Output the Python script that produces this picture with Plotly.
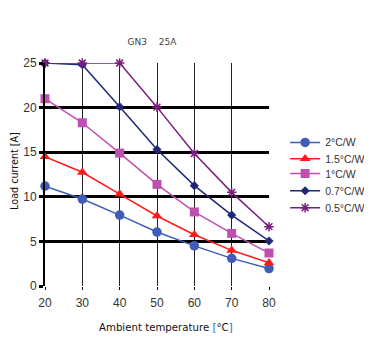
import plotly.graph_objects as go

temps = [20, 30, 40, 50, 60, 70, 80]
names = ["2°C/W", "1.5°C/W", "1°C/W", "0.7°C/W", "0.5°C/W"]
s_2 = [11.2, 9.75, 7.95, 6.05, 4.5, 3.1, 1.95]
s_15 = [14.5, 12.75, 10.3, 7.85, 5.75, 4.0, 2.6]
s_1 = [21.0, 18.3, 14.9, 11.4, 8.3, 5.9, 3.7]
s_07 = [25.0, 24.8, 20.1, 15.3, 11.25, 7.95, 5.05]
s_05 = [25.0, 25.0, 25.0, 20.05, 14.85, 10.5, 6.65]

series = [s_2, s_15, s_1, s_07, s_05]
colors = ["#3E5CB8", "#FF1A1A", "#C050B0", "#1F2878", "#7A1F80"]
symbols = ["circle", "triangle-up", "square", "diamond", "asterisk-open"]
sizes = [9.5, 9.5, 9, 7, 8]
legend_ys = [0.644, 0.571, 0.504, 0.427, 0.351]
legend_ids = ["legend", "legend2", "legend3", "legend4", "legend5"]

fig = go.Figure()
for n, s, c, sym, sz, lid in zip(names, series, colors, symbols, sizes, legend_ids):
    fig.add_trace(go.Scatter(
        x=temps, y=s, name=n, mode="lines+markers",
        line=dict(color=c, width=1.5),
        marker=dict(symbol=sym, size=sz, color=c, line=dict(color=c, width=1.5 if sym == "asterisk-open" else 0)),
        cliponaxis=False, legend=lid,
    ))

W, H = 364, 356
legend_common = dict(x=1.072, xanchor="left", yanchor="middle",
                     font=dict(family="Liberation Sans, Arial", size=10.5, color="#333333"),
                     itemwidth=30, bgcolor="rgba(0,0,0,0)")
legends = {lid: dict(y=ly, **legend_common) for lid, ly in zip(legend_ids, legend_ys)}

fig.update_layout(
    width=W, height=H,
    margin=dict(l=37, r=103, t=55, b=78, autoexpand=False),
    paper_bgcolor="white", plot_bgcolor="white",
    font=dict(family="Liberation Sans, Arial", size=11, color="#333333"),
    title=dict(text="GN3\u3000 25A", x=144/W, xanchor="center", y=1-34/H, yanchor="middle",
               font=dict(family="DejaVu Sans", size=9, color="#444444")),
    showlegend=True,
    xaxis=dict(range=[20, 80], tickvals=temps, showgrid=True, gridcolor="#222222", gridwidth=1.3,
               zeroline=False, showline=False, automargin=False,
               ticks="outside", ticklen=3, tickcolor="#000000", tickwidth=1.3,
               ticklabelstandoff=3,
               tickfont=dict(size=12, color="#333333")),
    yaxis=dict(range=[0, 25], tickvals=[0, 5, 10, 15, 20, 25], showgrid=True,
               gridcolor="#000000", gridwidth=2.5, zeroline=False, automargin=False,
               showline=True, linecolor="#000000", linewidth=2,
               ticks="outside", ticklen=4, tickcolor="#000000", tickwidth=2.5,
               tickfont=dict(size=12, color="#333333")),
    annotations=[
        dict(text="Ambient temperature <span style='color:#2F5FC8'>[</span>°C<span style='color:#2F5FC8'>]</span>",
             xref="paper", yref="paper", x=0.542, y=-0.184, xanchor="center", yanchor="middle",
             showarrow=False, font=dict(family="DejaVu Sans", size=10.2, color="#111111")),
        dict(text="Load current [A]", textangle=-90,
             xref="paper", yref="paper", x=-0.134, y=0.516, xanchor="center", yanchor="middle",
             showarrow=False, font=dict(family="DejaVu Sans", size=9.6, color="#111111")),
    ],
)
fig.update_layout(**legends)

fig.write_html("out.html")
